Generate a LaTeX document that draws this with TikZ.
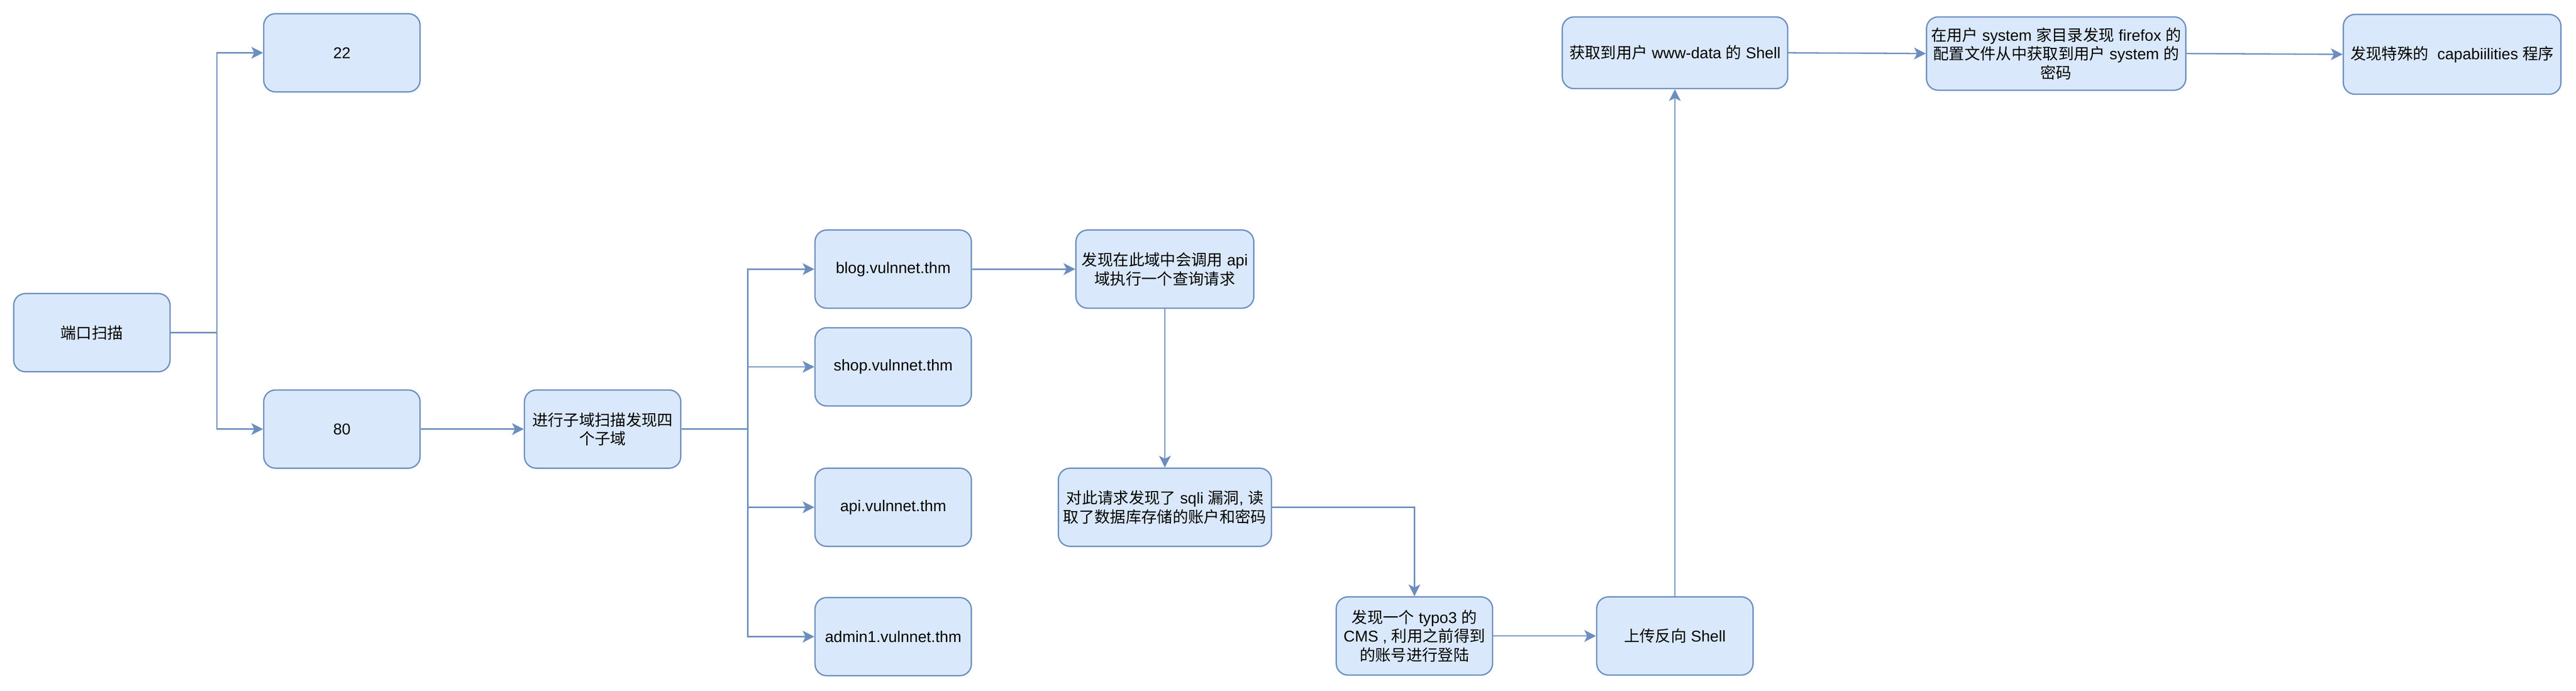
\documentclass[tikz,border=0pt]{standalone}
\usepackage{fontspec}
\setmainfont{Liberation Sans}
\newfontfamily\cjk{Noto Sans CJK SC}
\usetikzlibrary{arrows.meta,calc}
\newcommand\zh[1]{{\cjk #1}}
\definecolor{boxfill}{HTML}{DAE8FC}
\definecolor{boxline}{HTML}{6C8EBF}
\begin{document}
\begin{tikzpicture}[x=1pt,y=1pt,
  box/.style={draw=boxline, fill=boxfill, line width=1pt, rounded corners=9pt,
    inner sep=0pt, align=center, font=\fontsize{12}{14.4}\selectfont, text=black,
    minimum width=120pt, minimum height=60pt},
  arr/.style={draw=boxline, line width=1pt,
    -{Stealth[length=9pt,width=9pt,inset=2.25pt]}},
  thinarr/.style={arr, line width=0.8pt}]
\fill[white] (0,0) rectangle (1977,-530);
\useasboundingbox (0,0) rectangle (1977,-530);

\node[box] (scan) at (70.5,-255.25) {\zh{端口扫描}};
\node[box] (p22) at (262.4,-40.5) {22};
\node[box] (p80) at (262.4,-329.25) {80};
\node[box] (sub) at (462.5,-329.25) {\zh{进行子域扫描发现四}\\\zh{个子域}};
\node[box] (blog) at (685.5,-206.5) {blog.vulnnet.thm};
\node[box] (shop) at (685.5,-281.5) {shop.vulnnet.thm};
\node[box] (api) at (685.5,-389.25) {api.vulnnet.thm};
\node[box] (admin) at (685.5,-488.5) {admin1.vulnnet.thm};
\node[box, minimum width=136.5pt] (find) at (894,-206.5) {\zh{发现在此域中会调用} api\\\zh{域执行一个查询请求}};
\node[box, minimum width=163.5pt] (sqli) at (894,-389.25) {\zh{对此请求发现了} sqli \zh{漏洞}, \zh{读}\\\zh{取了数据库存储的账户和密码}};
\node[box] (typo3) at (1085.5,-488) {\zh{发现一个} typo3 \zh{的}\\CMS , \zh{利用之前得到}\\\zh{的账号进行登陆}};
\node[box] (upload) at (1285.4,-488) {\zh{上传反向} Shell};
\node[box, minimum width=173pt, minimum height=55pt] (wwwdata) at (1285.5,-40.5) {\zh{获取到用户} www-data \zh{的} Shell};
\node[box, minimum width=199pt, minimum height=56.25pt] (system) at (1578,-41.1) {\zh{在用户} system \zh{家目录发现} firefox \zh{的}\\\zh{配置文件从中获取到用户} system \zh{的}\\\zh{密码}};
\node[box, minimum width=167pt, minimum height=61.25pt] (cap) at (1881.9,-41.7) {\zh{发现特殊的}~\ capabiilities \zh{程序}};

\coordinate (b1) at ($(scan.east)!0.5!(p22.west)$);
\coordinate (b2) at ($(sub.east)!0.5!(blog.west)$);

\draw[arr] (scan.east) -- (scan.east -| b1) |- (p22.west);
\draw[arr] (scan.east -| b1) |- (p80.west);
\draw[arr] (p80) -- (sub);
\draw[arr] (sub.east) -- (sub.east -| b2) |- (blog.west);
\draw[arr] (sub.east -| b2) |- (shop.west);
\draw[arr] (sub.east -| b2) |- (api.west);
\draw[arr] (sub.east -| b2) |- (admin.west);
\draw[arr] (blog) -- (find);
\draw[thinarr] (find) -- (sqli);
\draw[arr] (sqli.east) -| (typo3.north);
\draw[arr] (typo3) -- (upload);
\draw[thinarr] (upload.north) -- (upload.north |- wwwdata.south);
\draw[arr] (wwwdata.east) -- (system.west);
\draw[arr] (system.east) -- (cap.west);
\end{tikzpicture}
\end{document}
